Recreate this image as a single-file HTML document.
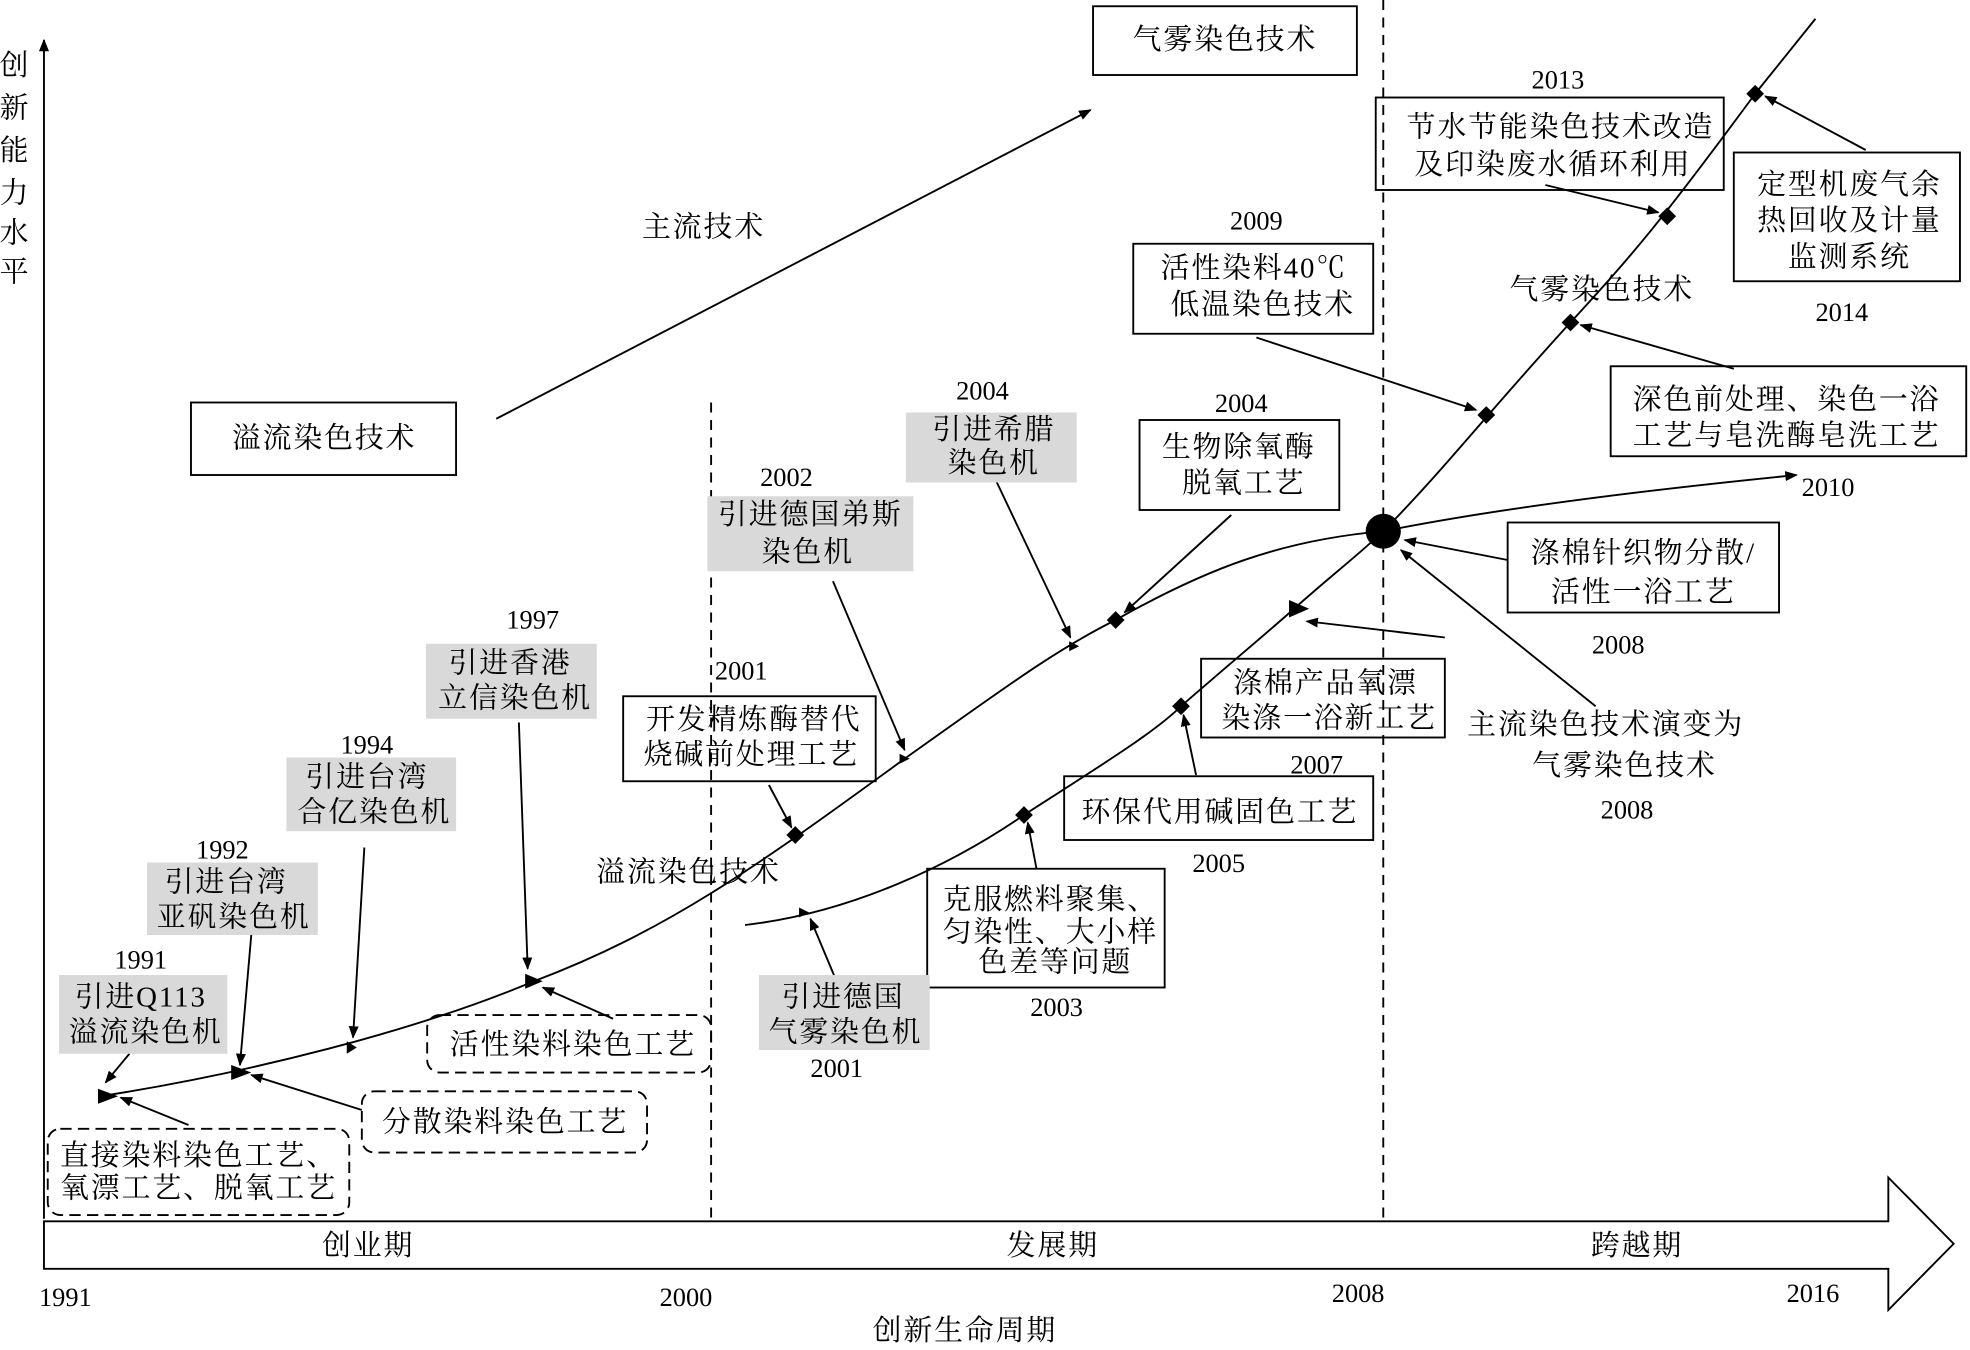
<!DOCTYPE html>
<html><head><meta charset="utf-8"><style>
html,body{margin:0;padding:0;background:#fff;}
svg{display:block}
text{font-family:"Liberation Serif","Noto Serif CJK SC","Noto Sans CJK SC",serif;fill:#000;}
.c{font-size:23px;letter-spacing:1.5px}
.y{font-size:21px}
</style></head><body>
<svg width="1970" height="1350" viewBox="0 0 1568 1080" preserveAspectRatio="none" xmlns="http://www.w3.org/2000/svg">
<defs>
<marker id="a" markerWidth="10" markerHeight="8" refX="9" refY="4" orient="auto" markerUnits="userSpaceOnUse"><path d="M0,0 L10,4 L0,8 z" fill="#000"/></marker>
</defs>
<g stroke="#000" stroke-width="1.5" fill="none">
<line x1="35" y1="975" x2="35" y2="32" marker-end="url(#a)"/>
<polygon points="35,977 1503,977 1503,942 1555,995 1503,1048 1503,1015 35,1015" fill="#fff"/>
<line x1="566" y1="322" x2="566" y2="975" stroke-dasharray="8,6"/>
<line x1="1101" y1="0" x2="1101" y2="975" stroke-dasharray="8,6"/>
<path d="M80,877 C200,858 330,825 425,785 C530,745 600,695 720,607 C800,550 840,520 888,496 C960,455 1020,432 1101,425 C1200,405 1330,390 1430,380" marker-end="url(#a)"/>
<path d="M593,740 C680,730 760,690 815,652 C880,610 920,585 940,565 C980,530 1010,505 1030,487 C1060,460 1080,445 1101,425 C1150,375 1180,335 1250,258 C1300,203 1320,180 1397,75 L1445,15"/>
<line x1="395" y1="335" x2="868" y2="88" marker-end="url(#a)"/>
<line x1="103" y1="843" x2="84" y2="866" marker-end="url(#a)"/>
<line x1="200" y1="748" x2="191" y2="852" marker-end="url(#a)"/>
<line x1="290" y1="678" x2="281" y2="830" marker-end="url(#a)"/>
<line x1="413" y1="578" x2="420" y2="775" marker-end="url(#a)"/>
<line x1="150" y1="900" x2="96" y2="878" marker-end="url(#a)"/>
<line x1="288" y1="888" x2="200" y2="860" marker-end="url(#a)"/>
<line x1="488" y1="815" x2="432" y2="790" marker-end="url(#a)"/>
<line x1="612" y1="628" x2="630" y2="662" marker-end="url(#a)"/>
<line x1="663" y1="465" x2="720" y2="600" marker-end="url(#a)"/>
<line x1="793" y1="385" x2="852" y2="510" marker-end="url(#a)"/>
<line x1="980" y1="412" x2="895" y2="490" marker-end="url(#a)"/>
<line x1="1000" y1="270" x2="1175" y2="328" marker-end="url(#a)"/>
<line x1="1230" y1="148" x2="1320" y2="170" marker-end="url(#a)"/>
<line x1="1485" y1="120" x2="1405" y2="77" marker-end="url(#a)"/>
<line x1="1380" y1="295" x2="1258" y2="260" marker-end="url(#a)"/>
<line x1="1200" y1="448" x2="1118" y2="432" marker-end="url(#a)"/>
<line x1="1270" y1="565" x2="1115" y2="440" marker-end="url(#a)"/>
<line x1="1150" y1="510" x2="1040" y2="497" marker-end="url(#a)"/>
<line x1="952" y1="620" x2="942" y2="572" marker-end="url(#a)"/>
<line x1="825" y1="695" x2="818" y2="658" marker-end="url(#a)"/>
<line x1="665" y1="783" x2="645" y2="735" marker-end="url(#a)"/>
<rect x="870" y="5" width="210" height="55"/>
<rect x="152" y="322" width="211" height="58"/>
<rect x="1095" y="78" width="277" height="74"/>
<rect x="1380" y="122" width="180" height="103"/>
<rect x="902" y="195" width="191" height="72"/>
<rect x="907" y="336" width="159" height="72"/>
<rect x="1282" y="293" width="283" height="72"/>
<rect x="1200" y="418" width="216" height="72"/>
<rect x="956" y="527" width="194" height="63"/>
<rect x="847" y="621" width="246" height="51"/>
<rect x="738" y="695" width="189" height="95"/>
<rect x="496" y="557" width="201" height="68"/>
<g stroke-dasharray="9,5">
<rect x="38" y="903" width="240" height="69" rx="10"/>
<rect x="288" y="873" width="227" height="49" rx="10"/>
<rect x="340" y="812" width="226" height="46" rx="10"/>
</g>
</g>
<g fill="#d9d9d9">
<rect x="47" y="780" width="134" height="63"/>
<rect x="117" y="690" width="136" height="58"/>
<rect x="228" y="606" width="135" height="59"/>
<rect x="339" y="515" width="136" height="60"/>
<rect x="563" y="397" width="164" height="60"/>
<rect x="721" y="330" width="136" height="56"/>
<rect x="604" y="780" width="136" height="60"/>
</g>
<g fill="#000">
<g transform="translate(633,668) rotate(45)"><rect x="-5" y="-5" width="10" height="10"/></g>
<g transform="translate(888,496) rotate(45)"><rect x="-5" y="-5" width="10" height="10"/></g>
<g transform="translate(815,652) rotate(45)"><rect x="-5" y="-5" width="10" height="10"/></g>
<g transform="translate(940,565) rotate(45)"><rect x="-5" y="-5" width="10" height="10"/></g>
<g transform="translate(1183,332) rotate(45)"><rect x="-5" y="-5" width="10" height="10"/></g>
<g transform="translate(1250,258) rotate(45)"><rect x="-5" y="-5" width="10" height="10"/></g>
<g transform="translate(1327,173) rotate(45)"><rect x="-5" y="-5" width="10" height="10"/></g>
<g transform="translate(1397,75) rotate(45)"><rect x="-5" y="-5" width="10" height="10"/></g>
<circle cx="1101" cy="425" r="14"/>
<path d="M78,871 L94,877 L78,883z"/>
<path d="M184,852 L200,858 L184,864z"/>
<path d="M276,833 L284,838 L276,843z"/>
<path d="M418,779 L432,785 L418,791z"/>
<path d="M716,603 L724,607 L716,611z"/>
<path d="M851,513 L859,517 L851,521z"/>
<path d="M636,726 L644,730 L636,734z"/>
<path d="M1026,480 L1042,487 L1026,494z"/>
</g>
<g class="c" text-anchor="middle" dominant-baseline="central">
<text x="12" y="53">创</text><text x="12" y="87">新</text><text x="12" y="121">能</text><text x="12" y="155">力</text><text x="12" y="187">水</text><text x="12" y="218">平</text>
<text x="975" y="32">气雾染色技术</text>
<text x="258" y="351">溢流染色技术</text>
<text x="560" y="182">主流技术</text>
<text x="1275" y="232">气雾染色技术</text>
<text x="548" y="698">溢流染色技术</text>
<text x="1278" y="580">主流染色技术演变为</text>
<text x="1293" y="613">气雾染色技术</text>
<text x="1242" y="102">节水节能染色技术改造</text>
<text x="1236" y="132">及印染废水循环利用</text>
<text x="1472" y="148">定型机废气余</text>
<text x="1472" y="177">热回收及计量</text>
<text x="1472" y="206">监测系统</text>
<text x="998" y="215">活性染料40℃</text>
<text x="1005" y="244">低温染色技术</text>
<text x="986" y="358">生物除氧酶</text>
<text x="990" y="387">脱氧工艺</text>
<text x="1422" y="320">深色前处理、染色一浴</text>
<text x="1422" y="349">工艺与皂洗酶皂洗工艺</text>
<text x="1308" y="443">涤棉针织物分散/</text>
<text x="1308" y="474">活性一浴工艺</text>
<text x="1055" y="547">涤棉产品氧漂</text>
<text x="1058" y="575">染涤一浴新工艺</text>
<text x="971" y="650">环保代用碱固色工艺</text>
<text x="836" y="720">克服燃料聚集、</text>
<text x="836" y="746">匀染性、大小样</text>
<text x="840" y="770">色差等问题</text>
<text x="600" y="576">开发精炼酶替代</text>
<text x="598" y="604">烧碱前处理工艺</text>
<text x="158" y="925">直接染料染色工艺、</text>
<text x="158" y="951">氧漂工艺、脱氧工艺</text>
<text x="402" y="898">分散染料染色工艺</text>
<text x="456" y="836">活性染料染色工艺</text>
<text x="112" y="798">引进Q113</text>
<text x="116" y="826">溢流染色机</text>
<text x="180" y="706">引进台湾</text>
<text x="186" y="734">亚矾染色机</text>
<text x="292" y="622">引进台湾</text>
<text x="298" y="650">合亿染色机</text>
<text x="406" y="531">引进香港</text>
<text x="410" y="559">立信染色机</text>
<text x="645" y="412">引进德国弟斯</text>
<text x="643" y="442">染色机</text>
<text x="791" y="344">引进希腊</text>
<text x="791" y="371">染色机</text>
<text x="671" y="798">引进德国</text>
<text x="673" y="826">气雾染色机</text>
<text x="293" y="997">创业期</text>
<text x="838" y="997">发展期</text>
<text x="1303" y="997">跨越期</text>
<text x="768" y="1065">创新生命周期</text>
</g>
<g class="y" text-anchor="middle" dominant-baseline="central">
<text x="1240" y="64">2013</text><text x="1000" y="177">2009</text><text x="988" y="323">2004</text>
<text x="782" y="313">2004</text><text x="626" y="382">2002</text><text x="590" y="537">2001</text>
<text x="424" y="496">1997</text><text x="292" y="596">1994</text><text x="177" y="680">1992</text>
<text x="112" y="768">1991</text><text x="1466" y="250">2014</text><text x="1455" y="390">2010</text>
<text x="1288" y="516">2008</text><text x="1048" y="612">2007</text><text x="970" y="691">2005</text>
<text x="841" y="806">2003</text><text x="666" y="855">2001</text><text x="1295" y="648">2008</text>
<text x="52" y="1038">1991</text><text x="546" y="1038">2000</text><text x="1081" y="1035">2008</text><text x="1443" y="1035">2016</text>
</g>
</svg>
</body></html>
